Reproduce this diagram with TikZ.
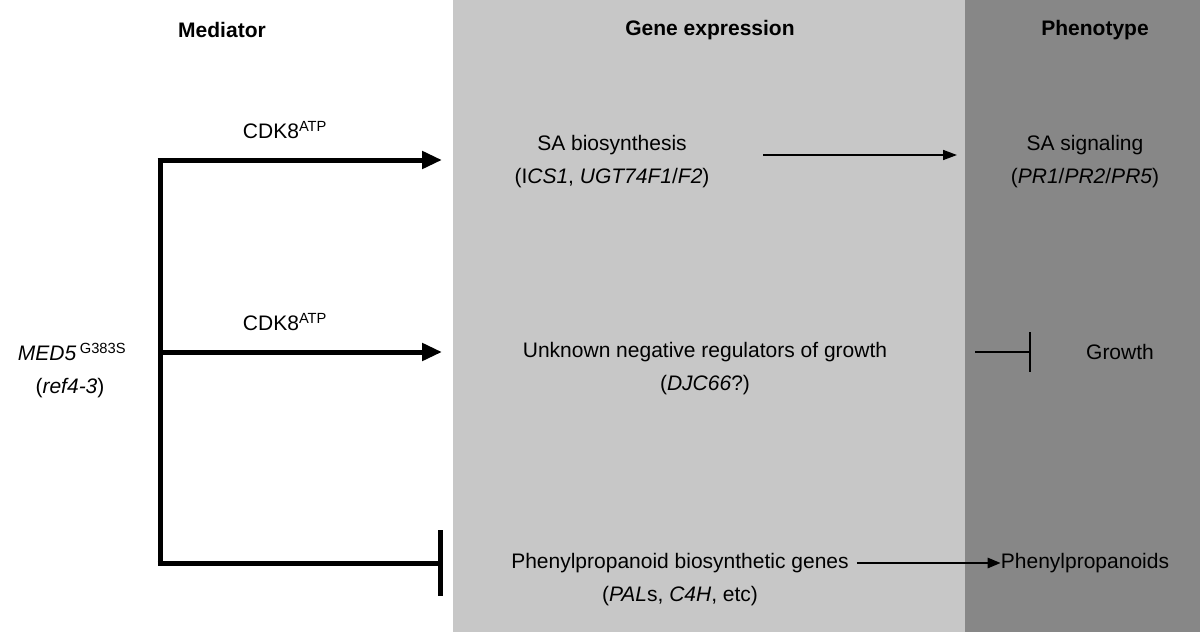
\documentclass[tikz,border=0pt]{standalone}
\usepackage{fontspec}
\setmainfont{Liberation Sans}
\usetikzlibrary{arrows.meta}
\begin{document}
\begin{tikzpicture}[x=1pt,y=-1pt,
  every node/.style={font=\fontsize{21}{24}\selectfont, align=center, inner sep=0},
  hd/.style={font=\fontsize{21}{24}\selectfont\bfseries},
  thick5/.style={line width=5pt},
  thin/.style={line width=1.6pt}]
\useasboundingbox (0,0) rectangle (1200,632);
\fill[white] (0,0) rectangle (1200,632);
\fill[black!22] (453,0) rectangle (965,632);
\fill[black!47] (965,0) rectangle (1200,632);
\node[hd] (hm) at (222,30) {Mediator};
\node[hd] (hg) at (710,30) {Gene expression};
\node[hd] (hp) at (1095,30) {Phenotype};
\node (med) at (72,352) {\textit{MED5}\,\textsuperscript{G383S}};
\node (ref) at (70,388) {(\textit{ref4-3})};
\coordinate (t) at (160,160);
\coordinate (m) at (160,352);
\coordinate (b) at (160,563);
\coordinate (ta) at (442,160);
\coordinate (ma) at (442,352);
\coordinate (ba) at (440,563);
\draw[thick5] (t) -- (b);
\draw[thick5,-{Triangle[length=20pt,width=17pt]}] ([xshift=-2.5pt]t) -- (ta);
\draw[thick5,-{Triangle[length=20pt,width=17pt]}] (m) -- (ma);
\draw[thick5] ([xshift=-2.5pt]b) -- (ba);
\draw[thick5] (440,530) -- (440,596);
\node (c1) at (285,130) {CDK8\textsuperscript{ATP}};
\node (c2) at (285,322) {CDK8\textsuperscript{ATP}};
\node (sa) at (612,145) {SA biosynthesis};
\node (sa2) at (612,178) {(I\textit{CS1}, \textit{UGT74F1}/\textit{F2})};
\node (ss) at (1085,145) {SA signaling};
\node (ss2) at (1085,178) {(\textit{PR1}/\textit{PR2}/\textit{PR5})};
\node (un) at (705,352) {Unknown negative regulators of growth};
\node (un2) at (705,385) {(\textit{DJC66}?)};
\node (gr) at (1120,352) {Growth};
\node (ph) at (680,563) {Phenylpropanoid biosynthetic genes};
\node (ph2) at (680,596) {(\textit{PAL}s, \textit{C4H}, etc)};
\node (pp) at (1085,563) {Phenylpropanoids};
\draw[thin,-{Triangle[length=14pt,width=10pt]}] (763,155) -- (957,155);
\draw[thin] (975,352) -- (1030,352);
\draw[thin] (1030,332) -- (1030,372);
\draw[line width=2.5pt,-{Triangle[length=13pt,width=10pt]}] (ph.east)++(8,0) -- (pp.west);
\end{tikzpicture}
\end{document}
